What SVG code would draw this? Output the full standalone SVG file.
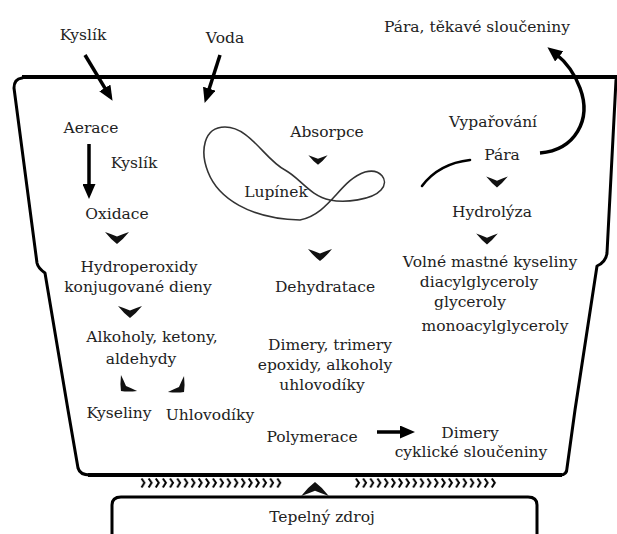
<svg xmlns="http://www.w3.org/2000/svg" width="617" height="534" viewBox="0 0 617 534">
<style>
text{font-family:"DejaVu Serif","Liberation Serif",serif;font-size:15.5px;fill:#222;text-anchor:middle}
.wall{fill:none;stroke:#000;stroke-width:3;stroke-linejoin:round;stroke-linecap:round}
.thick{fill:none;stroke:#000;stroke-width:4}
.arr{fill:none;stroke:#000;stroke-width:3.5}
.chev{fill:#111}
</style>
<defs>
<marker id="ah" markerUnits="userSpaceOnUse" markerWidth="15" markerHeight="13" viewBox="0 0 15 13" refX="4" refY="6.5" orient="auto">
<path d="M0,0 L15,6.5 L0,13 z" fill="#000"/>
</marker>
<path id="cv" d="M-12,-6 Q-6,1.5 0,6 Q6,1.5 12,-6 Q6,-4 0,-1.5 Q-6,-4 -12,-6 Z"/>
<pattern id="waves" patternUnits="userSpaceOnUse" x="140" y="477" width="7.15" height="12">
<path d="M1.5,1.5 L4.4,5.8 L1.5,10.5" fill="none" stroke="#000" stroke-width="2"/>
</pattern>
</defs>

<g id="pot">
<path class="thick" d="M22,77 L617,77"/>
<path class="wall" d="M22,78 Q14,79 14,88 L37,263 Q38,268 45,273 L68,410 L78,468 Q80,475 90,475"/>
<path class="thick" d="M88,475 L562,475"/>
<path class="wall" d="M560,475 Q567,475 567,468 L575,410 L597,266 Q606,262 607,253 L616,80"/>
</g>

<g id="heat-source">
<path class="wall" stroke-width="3.5" d="M112,534 L112,505 Q112,497 121,497 L528,497 Q537,497 537,505 L537,534"/>
<text x="322" y="522">Tepelný zdroj</text>
</g>

<g id="heat-waves">
<rect x="140" y="477" width="143" height="12" fill="url(#waves)"/>
<rect x="354.5" y="477" width="143" height="12" fill="url(#waves)"/>
<use href="#cv" transform="translate(315,489) rotate(180) scale(1.15)" class="chev"/>
</g>

<g id="connectors">
<path class="arr" d="M85,55 L106.9,91.4" marker-end="url(#ah)"/>
<path class="arr" d="M220,55 L208,92.5" marker-end="url(#ah)"/>
<path class="arr" stroke-width="2.5" d="M89,144 L89,188" marker-end="url(#ah)"/>
<path class="arr" stroke-width="3" d="M377,432 L404,432" marker-end="url(#ah)"/>
<path class="arr" stroke-width="2.8" d="M540,153 C575,150 592,120 580,88 C574,72 566,62 556,54" marker-end="url(#ah)"/>
<path fill="none" stroke="#000" stroke-width="2.6" stroke-linecap="round" d="M470,160 C452,162 434,170 422,186"/>
<use href="#cv" class="chev" transform="translate(117,238)"/>
<use href="#cv" class="chev" transform="translate(130,312)"/>
<use href="#cv" class="chev" transform="translate(125,387) rotate(45) scale(0.95)"/>
<use href="#cv" class="chev" transform="translate(180,388) rotate(-45) scale(0.95)"/>
<use href="#cv" class="chev" transform="translate(318,160) scale(0.8)"/>
<use href="#cv" class="chev" transform="translate(320,255)"/>
<use href="#cv" class="chev" transform="translate(497,182) scale(0.9)"/>
<use href="#cv" class="chev" transform="translate(487,239) scale(0.9)"/>
</g>

<g id="lupinek">
<path fill="none" stroke="#333" stroke-width="1.6" d="M300,220 C330,214 340,180 365,172 C380,168 390,180 381,190 C372,200 345,203 330,200 C310,196 300,178 285,170 C265,160 250,127 225,127 C203,127 200,152 208,172 C218,198 250,219 300,220 Z"/>
<text x="276" y="197">Lupínek</text>
</g>

<g id="kyslik-in"><text x="83" y="40">Kyslík</text></g>
<g id="voda"><text x="225" y="43">Voda</text></g>
<g id="para-out"><text x="477" y="32">Pára, těkavé sloučeniny</text></g>
<g id="aerace"><text x="91" y="133">Aerace</text></g>
<g id="kyslik"><text x="134" y="168">Kyslík</text></g>
<g id="oxidace"><text x="117" y="219">Oxidace</text></g>
<g id="hydroperoxidy"><text x="139" y="272">Hydroperoxidy</text><text x="138" y="292">konjugované dieny</text></g>
<g id="alkoholy"><text x="152" y="342">Alkoholy, ketony,</text><text x="141" y="364">aldehydy</text></g>
<g id="kyseliny"><text x="119" y="418">Kyseliny</text></g>
<g id="uhlovodiky"><text x="210" y="420">Uhlovodíky</text></g>
<g id="absorpce"><text x="327" y="137">Absorpce</text></g>
<g id="dehydratace"><text x="325" y="292">Dehydratace</text></g>
<g id="dimery-trimery"><text x="330" y="350">Dimery, trimery</text><text x="325" y="370">epoxidy, alkoholy</text><text x="322" y="390">uhlovodíky</text></g>
<g id="polymerace"><text x="312" y="442">Polymerace</text></g>
<g id="dimery"><text x="470" y="438">Dimery</text><text x="471" y="457">cyklické sloučeniny</text></g>
<g id="vyparovani"><text x="493" y="127">Vypařování</text></g>
<g id="para"><text x="502" y="160">Pára</text></g>
<g id="hydrolyza"><text x="492" y="217">Hydrolýza</text></g>
<g id="kyseliny-volne"><text x="490" y="267">Volné mastné kyseliny</text><text x="479" y="287">diacylglyceroly</text><text x="470" y="307">glyceroly</text><text x="495" y="331">monoacylglyceroly</text></g>
</svg>
